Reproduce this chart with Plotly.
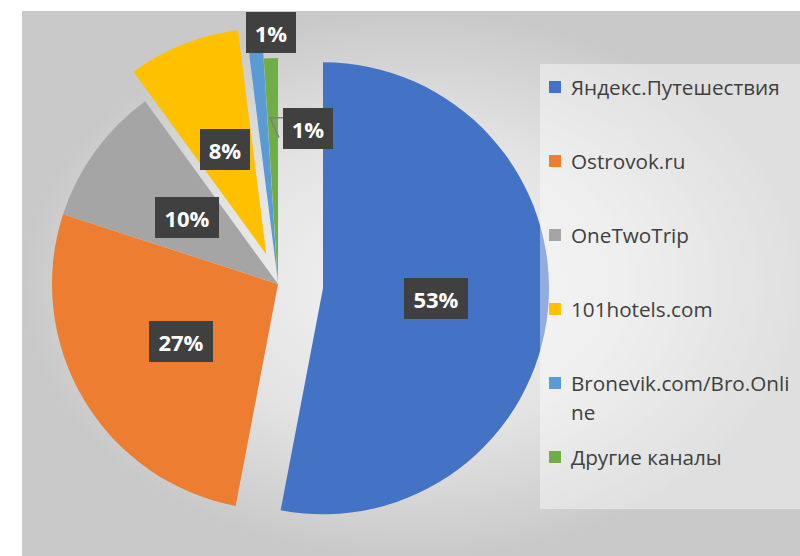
import math
import plotly.graph_objects as go

# ---------------- data ----------------
labels = ["Яндекс.Путешествия", "Ostrovok.ru", "OneTwoTrip", "101hotels.com",
          "Bronevik.com/Bro.Online", "Другие каналы"]
values = [53, 27, 10, 8, 1, 1]
colors = ["#4472C4", "#ED7D31", "#A5A5A5", "#FFC000", "#5B9BD5", "#70AD47"]
pulls = [0.2, 0, 0, 0.14, 0.03, 0]

# label placement (style): radial fraction from slice apex and angle offset (deg)
label_rfrac = [0.5, 0.5, 0.5, 0.5, 1.085, 0.70]
label_dtheta = [0, 0, 0, 0, 3.9, 12.7]

# ---------------- geometry (pixel coords) ----------------
W, H = 800, 556
CX, CY, R = 278, 284, 226
half = R * (1 + max(pulls))
dom_x = [max(0.0, (CX - half) / W), min(1.0, (CX + half) / W)]
dom_y = [max(0.0, 1 - (CY + half) / H), min(1.0, 1 - (CY - half) / H)]

fig = go.Figure()

# background panel with radial gradient
fig.add_trace(go.Scatter(
    x=[22, 802, 802, 22, 22], y=[11, 11, 558, 558, 11],
    mode="lines", line=dict(width=0), fill="toself",
    fillgradient=dict(type="radial",
                      colorscale=[[0, "#f3f3f3"], [0.55, "#e3e3e3"], [1, "#c9c9c9"]]),
    hoverinfo="skip", showlegend=False))

fig.add_trace(go.Pie(
    labels=labels, values=values, sort=False, direction="clockwise", rotation=0,
    pull=pulls, marker=dict(colors=colors, line=dict(width=0)),
    textinfo="none", hoverinfo="label+percent", showlegend=False,
    domain=dict(x=dom_x, y=dom_y)))

annotations = []
shapes = []

# semi-transparent legend box (over the pie)
shapes.append(dict(type="rect", xref="x", yref="y", x0=540, x1=802, y0=64, y1=509,
                   fillcolor="rgba(255,255,255,0.42)", line=dict(width=0), layer="above"))

total = sum(values)
start = 0.0
for i, v in enumerate(values):
    span = v / total * 360
    mid = start + span / 2
    start += span
    ax = CX + pulls[i] * R * math.sin(math.radians(mid))
    ay = CY - pulls[i] * R * math.cos(math.radians(mid))
    ang = math.radians(mid + label_dtheta[i])
    lx = ax + label_rfrac[i] * R * math.sin(ang)
    ly = ay - label_rfrac[i] * R * math.cos(ang)
    txt = f"{v / total * 100:.0f}%"
    bw = 64 if len(txt) > 2 else 50
    annotations.append(dict(
        x=lx, y=ly, xref="x", yref="y", text=f"<b>{txt}</b>", showarrow=False,
        font=dict(family="Open Sans", size=22, color="white"),
        bgcolor="#404040", borderwidth=0, borderpad=0, width=bw, height=41,
        xanchor="center", yanchor="middle"))
    if i == 5:
        # leader line from label to slice
        pts = [(lx - 25, ly - 11), (lx - 38, ly - 11), (lx - 29, ly + 9)]
        path = "M " + " L ".join(f"{px},{py}" for px, py in pts)
        shapes.append(dict(type="path", xref="x", yref="y", path=path,
                           line=dict(color="#808080", width=1.5), layer="above"))

# legend drawn from the labels
LEG_X, LEG_Y0, LEG_DY, LINE_DY, WRAP = 549, 87, 74, 29, 21
for i, lab in enumerate(labels):
    yc = LEG_Y0 + i * LEG_DY
    shapes.append(dict(type="rect", xref="x", yref="y",
                       x0=LEG_X, x1=LEG_X + 12, y0=yc - 6, y1=yc + 6,
                       fillcolor=colors[i], line=dict(width=0), layer="above"))
    lines = [lab[k:k + WRAP] for k in range(0, len(lab), WRAP)]
    for k, ln in enumerate(lines):
        annotations.append(dict(
            x=LEG_X + 20, y=yc + k * LINE_DY, xref="x", yref="y", text=ln,
            showarrow=False, xanchor="left", yanchor="middle",
            font=dict(family="Open Sans", size=20.7, color="#404040")))

fig.update_layout(
    width=W, height=H, margin=dict(l=0, r=0, t=0, b=0),
    paper_bgcolor="white", plot_bgcolor="white",
    xaxis=dict(range=[0, W], visible=False, fixedrange=True, domain=[0, 1]),
    yaxis=dict(range=[H, 0], visible=False, fixedrange=True, domain=[0, 1]),
    annotations=annotations, shapes=shapes, showlegend=False)

fig.write_html("out.html",
               config={"displayModeBar": False},
               post_script="document.body.style.margin='0';"
                           "document.body.style.overflow='hidden';")
